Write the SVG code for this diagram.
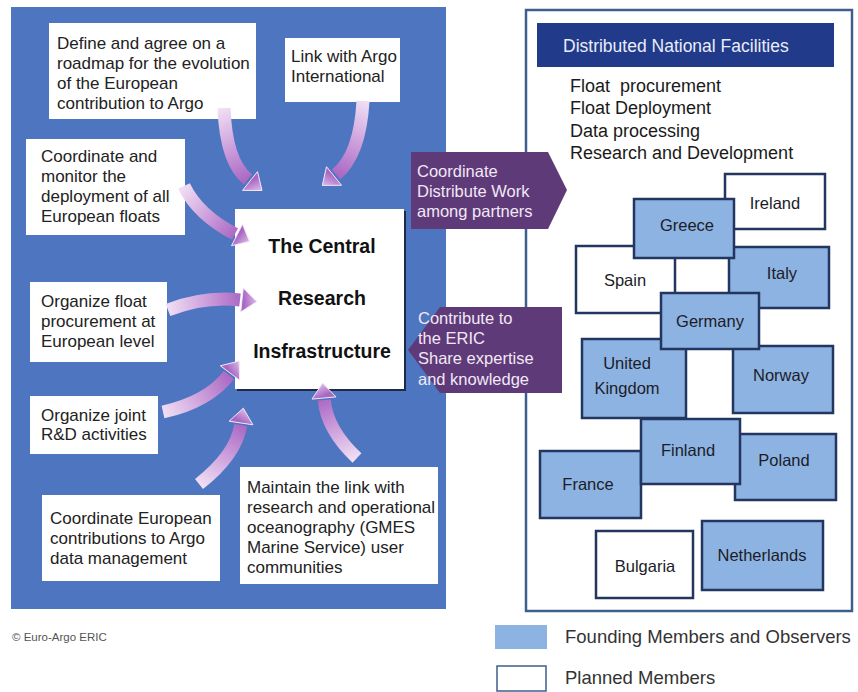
<svg xmlns="http://www.w3.org/2000/svg" width="858" height="692" viewBox="0 0 858 692">
<style>
  .t{font-family:"Liberation Sans",Arial,sans-serif;font-size:17px;fill:#222;}
  .ctr{font-family:"Liberation Sans",Arial,sans-serif;font-size:19.5px;font-weight:bold;fill:#111;text-anchor:middle;}
  .pt{font-family:"Liberation Sans",Arial,sans-serif;font-size:16.5px;fill:#f1e8f6;}
  .lst{font-family:"Liberation Sans",Arial,sans-serif;font-size:18px;fill:#1a1a1a;}
  .cn{font-family:"Liberation Sans",Arial,sans-serif;font-size:16.5px;fill:#1c1c28;text-anchor:middle;}
  .wb{fill:#ffffff;}
  .fm{fill:#8db3e2;stroke:#22365f;stroke-width:2.5;}
  .pm{fill:#ffffff;stroke:#22365f;stroke-width:2.5;}
  .pa{fill:#5f3a78;}
  .body{fill:none;stroke-width:13;stroke-linecap:butt;}
  .head{stroke:#f4e6f8;stroke-width:1;}
  .leg{font-family:"Liberation Sans",Arial,sans-serif;font-size:18.5px;fill:#333;}
</style>
<defs>
  <linearGradient id="g1" gradientUnits="userSpaceOnUse" x1="224" y1="108" x2="262" y2="190"><stop offset="0" stop-color="#f0def4"/><stop offset="0.55" stop-color="#c38fd5"/><stop offset="0.85" stop-color="#a866c2"/><stop offset="1" stop-color="#dcbbe8"/></linearGradient>
  <linearGradient id="g2" gradientUnits="userSpaceOnUse" x1="363" y1="101" x2="322" y2="185"><stop offset="0" stop-color="#f0def4"/><stop offset="0.55" stop-color="#c38fd5"/><stop offset="0.85" stop-color="#a866c2"/><stop offset="1" stop-color="#dcbbe8"/></linearGradient>
  <linearGradient id="g3" gradientUnits="userSpaceOnUse" x1="184" y1="186" x2="250" y2="241"><stop offset="0" stop-color="#f0def4"/><stop offset="0.55" stop-color="#c38fd5"/><stop offset="0.85" stop-color="#a866c2"/><stop offset="1" stop-color="#dcbbe8"/></linearGradient>
  <linearGradient id="g4" gradientUnits="userSpaceOnUse" x1="168" y1="310" x2="257" y2="301"><stop offset="0" stop-color="#f0def4"/><stop offset="0.55" stop-color="#c38fd5"/><stop offset="0.85" stop-color="#a866c2"/><stop offset="1" stop-color="#dcbbe8"/></linearGradient>
  <linearGradient id="g5" gradientUnits="userSpaceOnUse" x1="163" y1="412" x2="239" y2="361"><stop offset="0" stop-color="#f0def4"/><stop offset="0.55" stop-color="#c38fd5"/><stop offset="0.85" stop-color="#a866c2"/><stop offset="1" stop-color="#dcbbe8"/></linearGradient>
  <linearGradient id="g6" gradientUnits="userSpaceOnUse" x1="199" y1="484" x2="243" y2="408"><stop offset="0" stop-color="#f0def4"/><stop offset="0.55" stop-color="#c38fd5"/><stop offset="0.85" stop-color="#a866c2"/><stop offset="1" stop-color="#dcbbe8"/></linearGradient>
  <linearGradient id="g7" gradientUnits="userSpaceOnUse" x1="357" y1="458" x2="323" y2="383"><stop offset="0" stop-color="#f0def4"/><stop offset="0.55" stop-color="#c38fd5"/><stop offset="0.85" stop-color="#a866c2"/><stop offset="1" stop-color="#dcbbe8"/></linearGradient>
</defs>

<rect x="0" y="0" width="858" height="692" fill="#ffffff"/>

<!-- Left panel -->
<g id="central-panel">
  <rect x="11" y="7" width="435" height="602" fill="#4e76c0"/>
</g>

<!-- Right panel -->
<g id="national-facilities">
  <rect x="526" y="10" width="326" height="601" fill="#ffffff" stroke="#3d5f8e" stroke-width="2.5"/>
  <rect x="537" y="23" width="297" height="44" fill="#213a8a"/>
  <text x="563" y="52" font-family="Liberation Sans, Arial, sans-serif" font-size="17.5" fill="#e9edf8">Distributed National Facilities</text>
  <text class="lst" x="570" y="92" xml:space="preserve">Float  procurement</text>
  <text class="lst" x="570" y="114">Float Deployment</text>
  <text class="lst" x="570" y="137">Data processing</text>
  <text class="lst" x="570" y="159">Research and Development</text>
</g>

<g id="ireland"><rect class="pm" x="725" y="174" width="100" height="55"/><text class="cn" x="775" y="209">Ireland</text></g>
<g id="spain"><rect class="pm" x="576" y="246" width="99" height="67"/><text class="cn" x="625" y="286">Spain</text></g>
<g id="italy"><rect class="fm" x="729" y="247" width="100" height="61"/><text class="cn" x="782" y="279">Italy</text></g>
<g id="greece"><rect class="fm" x="634" y="199" width="100" height="59"/><text class="cn" x="687" y="231">Greece</text></g>
<g id="norway"><rect class="fm" x="733" y="346" width="100" height="67"/><text class="cn" x="781" y="381">Norway</text></g>
<g id="united-kingdom"><rect class="fm" x="582" y="339" width="104" height="79"/><text class="cn" x="627" y="369">United</text><text class="cn" x="627" y="394">Kingdom</text></g>
<g id="germany"><rect class="fm" x="661" y="293" width="98" height="56"/><text class="cn" x="710" y="327">Germany</text></g>
<g id="poland"><rect class="fm" x="735" y="434" width="101" height="66"/><text class="cn" x="784" y="466">Poland</text></g>
<g id="france"><rect class="fm" x="540" y="451" width="101" height="67"/><text class="cn" x="588" y="490">France</text></g>
<g id="finland"><rect class="fm" x="641" y="419" width="99" height="65"/><text class="cn" x="688" y="456">Finland</text></g>
<g id="bulgaria"><rect class="pm" x="596" y="531" width="97" height="67"/><text class="cn" x="645" y="572">Bulgaria</text></g>
<g id="netherlands"><rect class="fm" x="702" y="521" width="121" height="69"/><text class="cn" x="762" y="561">Netherlands</text></g>

<!-- Left task boxes -->
<g id="roadmap">
  <rect class="wb" x="49" y="23" width="207" height="96"/>
  <text class="t" x="57" y="49">Define and agree on a</text>
  <text class="t" x="57" y="69">roadmap for the evolution</text>
  <text class="t" x="57" y="89">of the European</text>
  <text class="t" x="57" y="109">contribution to Argo</text>
</g>
<g id="argo-international">
  <rect class="wb" x="285" y="38" width="115" height="64"/>
  <text class="t" x="291" y="62">Link with Argo</text>
  <text class="t" x="291" y="82">International</text>
</g>
<g id="deployment">
  <rect class="wb" x="26" y="139" width="159" height="96"/>
  <text class="t" x="41" y="162">Coordinate and</text>
  <text class="t" x="41" y="182">monitor the</text>
  <text class="t" x="41" y="202">deployment of all</text>
  <text class="t" x="41" y="222">European floats</text>
</g>
<g id="procurement">
  <rect class="wb" x="30" y="282" width="137" height="80"/>
  <text class="t" x="41" y="307">Organize float</text>
  <text class="t" x="41" y="327">procurement at</text>
  <text class="t" x="41" y="347">European level</text>
</g>
<g id="rnd">
  <rect class="wb" x="30" y="396" width="128" height="58"/>
  <text class="t" x="41" y="421">Organize joint</text>
  <text class="t" x="41" y="440">R&amp;D activities</text>
</g>
<g id="data-management">
  <rect class="wb" x="42" y="495" width="178" height="86"/>
  <text class="t" x="50" y="524">Coordinate European</text>
  <text class="t" x="50" y="544">contributions to Argo</text>
  <text class="t" x="50" y="564">data management</text>
</g>
<g id="user-communities">
  <rect class="wb" x="240" y="467" width="198" height="117"/>
  <text class="t" x="247" y="493">Maintain the link with</text>
  <text class="t" x="247" y="513">research and operational</text>
  <text class="t" x="247" y="533">oceanography (GMES</text>
  <text class="t" x="247" y="553">Marine Service) user</text>
  <text class="t" x="247" y="573">communities</text>
</g>

<g id="central-infrastructure">
  <rect x="237" y="211" width="169" height="180" fill="#1e2a48"/>
  <rect x="235" y="209" width="169" height="180" fill="#ffffff"/>
  <text class="ctr" x="322" y="253">The Central</text>
  <text class="ctr" x="322" y="305">Research</text>
  <text class="ctr" x="322" y="358">Insfrastructure</text>
</g>

<!-- Connectors -->
<g id="connectors">
  <path class="body" stroke="url(#g1)" d="M224,108 Q226,162 248,179.5"/>
  <polygon class="head" fill="url(#g1)" points="242.5,190.4 262,190.5 257.5,171.6"/>
  <path class="body" stroke="url(#g2)" d="M363,101 Q360,155 336,174.5"/>
  <polygon class="head" fill="url(#g2)" points="326.5,166.7 322.3,185.4 341.5,185.3"/>
  <path class="body" stroke="url(#g3)" d="M184,186 Q198,215 235,234"/>
  <polygon class="head" fill="url(#g3)" points="231.5,245.7 249.5,241.4 242.5,224.3"/>
  <path class="body" stroke="url(#g4)" d="M168,310 Q205,296 240,300"/>
  <polygon class="head" fill="url(#g4)" points="240.7,311.9 256.9,301.6 243.3,288.1"/>
  <path class="body" stroke="url(#g5)" d="M163,412 Q208,402 229,375"/>
  <polygon class="head" fill="url(#g5)" points="239.6,380.2 239.1,361 220.4,365.8"/>
  <path class="body" stroke="url(#g6)" d="M199,484 Q236,455 240.7,425"/>
  <polygon class="head" fill="url(#g6)" points="252.9,424.8 243.3,408.2 229.1,421.2"/>
  <path class="body" stroke="url(#g7)" d="M357,458 Q327,430 324.2,400"/>
  <polygon class="head" fill="url(#g7)" points="336,396.9 322.6,383.1 312,399.1"/>
</g>

<g id="distribute-work">
  <polygon class="pa" points="411,152 548,152 567,190 548,229 411,229"/>
  <text class="pt" x="417" y="177">Coordinate</text>
  <text class="pt" x="417" y="197">Distribute Work</text>
  <text class="pt" x="417" y="217">among partners</text>
</g>
<g id="contribute-eric">
  <polygon class="pa" points="408,350 440,307 562,307 562,393 440,393"/>
  <text class="pt" x="418" y="324">Contribute to</text>
  <text class="pt" x="418" y="344">the ERIC</text>
  <text class="pt" x="418" y="364">Share expertise</text>
  <text class="pt" x="418" y="385">and knowledge</text>
</g>

<!-- Legend -->
<g id="legend">
  <rect x="495" y="625" width="52" height="24" fill="#8db3e2"/>
  <text class="leg" x="565" y="643">Founding Members and Observers</text>
  <rect x="497" y="666" width="49" height="25" fill="#ffffff" stroke="#3d5f8e" stroke-width="1.5"/>
  <text class="leg" x="565" y="684">Planned Members</text>
</g>

<text x="12" y="641" font-family="Liberation Sans, Arial, sans-serif" font-size="11.5" fill="#555">© Euro-Argo ERIC</text>
</svg>
